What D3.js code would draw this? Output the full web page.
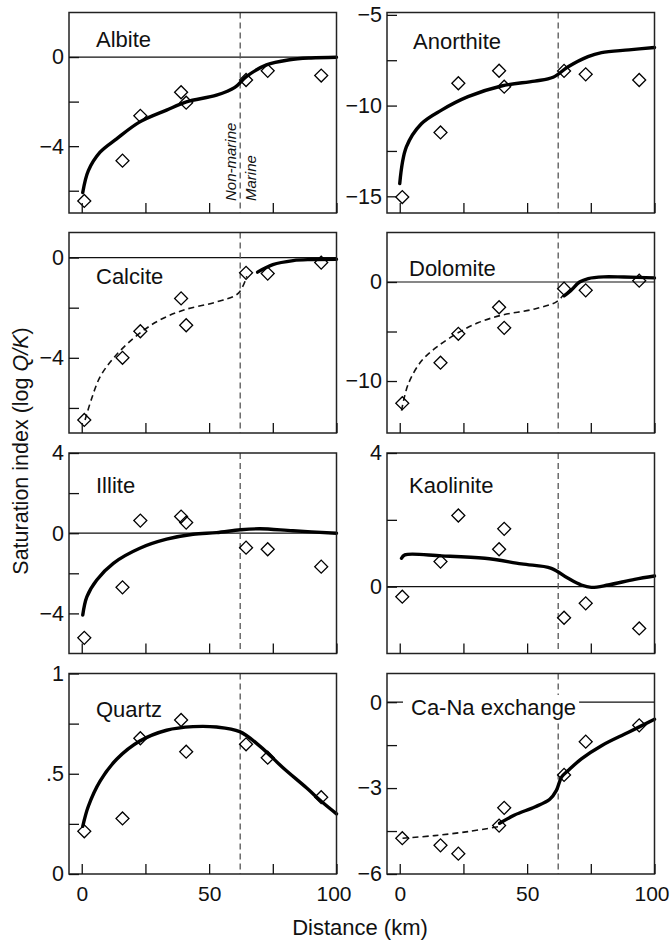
<!DOCTYPE html>
<html>
<head>
<meta charset="utf-8">
<script src="https://cdn.jsdelivr.net/npm/d3@7"></script>
<style>
    body { margin: 0; background: #fff; }
    svg { font-family: "Liberation Sans", Arial, Helvetica, sans-serif; }
    .tick text { font-size: 21.5px; fill: #111; }
</style>
</head>
<body>
<svg id="chart" width="671" height="943"></svg>
<script>
// sample sites along the flow path (km)
const sampleKm = [1, 16, 23, 39, 41, 64.5, 73, 94];
const boundaryKm = 62.2;
const xTicks = [0, 25, 50, 75, 100];
const xLabels = [0, 50, 100];

// observed saturation indices (diamonds)
const albiteObs    = [-6.46, -4.65, -2.64, -1.58, -2.05, -1.03, -0.62, -0.83];
const anorthiteObs = [-15.04, -11.48, -8.77, -8.08, -8.96, -8.09, -8.28, -8.59];
const calciteObs   = [-6.48, -4.0, -2.94, -1.63, -2.70, -0.61, -0.64, -0.2];
const dolomiteObs  = [-12.24, -8.15, -5.23, -2.55, -4.63, -0.67, -0.84, 0.13];
const illiteObs    = [-5.22, -2.7, 0.63, 0.83, 0.53, -0.72, -0.8, -1.67];
const kaoliniteObs = [-0.3, 0.75, 2.13, 1.12, 1.73, -0.93, -0.5, -1.25];
const quartzObs    = [0.213, 0.277, 0.677, 0.768, 0.61, 0.647, 0.58, 0.383];
const caNaObs      = [-4.75, -5.0, -5.29, -4.31, -3.69, -2.54, -1.38, -0.81];

// model curves [km, log Q/K]
const albiteModel = [[0.4,-6.08],[2.6,-5.1],[7.2,-4.27],[13.7,-3.67],[22.8,-2.91],[33.3,-2.38],[41.1,-2.01],
    [52.9,-1.71],[60.1,-1.36],[64.6,-0.88],[72.5,-0.35],[81.6,-0.12],[90,-0.04],[100,-0.01]];
const anorthiteModel = [[0,-14.3],[2.6,-12.28],[8.5,-11.0],[16.4,-10.25],[26.8,-9.51],[39.9,-8.92],[53,-8.65],
    [60.2,-8.44],[66.1,-7.86],[73.9,-7.3],[79.2,-7.08],[90,-6.93],[100,-6.8]];
const calciteDashed = [[1.3,-6.48],[3.9,-5.62],[7.2,-4.76],[12.4,-4.02],[20.2,-3.23],[29.4,-2.56],[39.8,-2.1],
    [52.9,-1.77],[61.4,-1.43],[64.8,-0.75]];
const calciteModel = [[69,-0.58],[75,-0.28],[83,-0.12],[90,-0.08],[100,-0.07]];
const dolomiteDashed = [[0.7,-13.0],[3.3,-10.33],[8.5,-7.99],[15,-6.48],[22.9,-5.13],[30.7,-4.12],[39.9,-3.36],
    [53,-2.72],[61.5,-2.01],[64.1,-1.35]];
const dolomiteModel = [[64.5,-1.4],[67,-0.9],[70.6,0],[74,0.35],[80,0.52],[88,0.5],[100,0.42]];
const illiteModel = [[0.4,-4.08],[2,-3.17],[5.9,-2.33],[12.4,-1.5],[22.8,-0.75],[33.3,-0.3],[43.7,-0.05],
    [52.9,0.03],[62.3,0.17],[69.9,0.22],[82.9,0.12],[100,0]];
const kaoliniteModel = [[0.7,0.85],[2,0.95],[16.4,0.92],[33.4,0.85],[47.8,0.68],[59.5,0.55],[66.1,0.25],
    [71.3,0.05],[75.2,-0.02],[81.8,0.05],[92.2,0.22],[100,0.32]];
const quartzModel = [[0.4,0.238],[2.6,0.338],[7.2,0.463],[13.7,0.572],[22.8,0.663],[33.3,0.717],[43.7,0.735],
    [52.9,0.733],[62,0.71],[69.9,0.638],[79,0.53],[88.2,0.43],[94.7,0.355],[100,0.3]];
const caNaDashed = [[1.1,-4.75],[13.7,-4.66],[26.8,-4.52],[39.2,-4.34]];
const caNaModel = [[39.2,-4.23],[45.1,-3.94],[53,-3.66],[58.9,-3.39],[61.5,-3.08],[63.5,-2.62],[66.1,-2.39],
    [71.3,-1.98],[79.2,-1.52],[89.6,-1.06],[100,-0.6]];

// y axis ticks and which of them get a label
const albiteTicks = [0, -2, -4, -6],            albiteLabels = [0, -4];
const anorthiteTicks = [-5, -7.5, -10, -12.5, -15], anorthiteLabels = [-5, -10, -15];
const calciteTicks = [0, -2, -4, -6],           calciteLabels = [0, -4];
const dolomiteTicks = [0, -5, -10],             dolomiteLabels = [0, -10];
const illiteTicks = [4, 2, 0, -2, -4],          illiteLabels = [4, 0, -4];
const kaoliniteTicks = [4, 2, 0],               kaoliniteLabels = [4, 0];
const quartzTicks = [0, 0.25, 0.5, 0.75, 1],    quartzLabels = [0, 0.5, 1];
const caNaTicks = [0, -1.5, -3, -4.5, -6],      caNaLabels = [0, -3, -6];

const colLeft = [69, 387];
const rowTop = [12.5, 232.5, 453, 673.5];

class MineralPanel {

    constructor(_config, _data) {
        this.config = {
            parentElement: _config.parentElement,
            left: _config.left,
            top: _config.top,
            width: 267.5,
            height: 200.5,
            title: _config.title,
            titlePos: _config.titlePos,
            titleBg: _config.titleBg || false,
            yDomain: _config.yDomain,
            yTicks: _config.yTicks,
            yLabels: _config.yLabels,
            zeroLine: _config.zeroLine !== false,
            showX: _config.showX || false,
            zoneLabels: _config.zoneLabels || false
        }
        this.data = _data;
        this.initVis();
    }

    initVis() {
        let vis = this;

        vis.xScale = d3.scaleLinear()
            .domain([-5, 100])
            .range([0, vis.config.width]);

        vis.yScale = d3.scaleLinear()
            .domain(vis.config.yDomain)
            .range([vis.config.height, 0]);

        vis.g = d3.select(vis.config.parentElement).append('g')
            .attr('transform', `translate(${vis.config.left},${vis.config.top})`);

        vis.line = d3.line()
            .x(d => vis.xScale(d[0]))
            .y(d => vis.yScale(d[1]))
            .curve(d3.curveCatmullRom.alpha(0.5));

        vis.renderVis();
    }

    renderVis() {
        let vis = this;
        const fmt = d => (Math.abs(d) > 0 && Math.abs(d) < 1 ? String(d).replace('0.', '.') : String(d)).replace('-', '\u2212');

        if (vis.config.zeroLine) {
            vis.g.append('line')
                .attr('x1', 0).attr('x2', vis.config.width)
                .attr('y1', vis.yScale(0)).attr('y2', vis.yScale(0))
                .attr('stroke', '#111').attr('stroke-width', 1.2);
        }

        // non-marine / marine boundary
        vis.g.append('line')
            .attr('x1', vis.xScale(boundaryKm)).attr('x2', vis.xScale(boundaryKm))
            .attr('y1', 0).attr('y2', vis.config.height)
            .attr('stroke', '#555').attr('stroke-width', 1.3)
            .attr('stroke-dasharray', '6,4');

        (vis.data.dashed || []).forEach(seg => {
            vis.g.append('path')
                .datum(seg)
                .attr('d', vis.line)
                .attr('fill', 'none').attr('stroke', '#111')
                .attr('stroke-width', 1.6).attr('stroke-dasharray', '6,4');
        });

        (vis.data.solid || []).forEach(seg => {
            vis.g.append('path')
                .datum(seg)
                .attr('d', vis.line)
                .attr('fill', 'none').attr('stroke', '#000')
                .attr('stroke-width', 3.4).attr('stroke-linecap', 'round');
        });

        vis.g.selectAll('.obs')
            .data(vis.data.obs.map((v, i) => [sampleKm[i], v]))
            .join('path')
            .attr('class', 'obs')
            .attr('d', d3.symbol().type(d3.symbolSquare).size(84))
            .attr('transform', d => `translate(${vis.xScale(d[0])},${vis.yScale(d[1])}) rotate(45)`)
            .attr('fill', 'none').attr('stroke', '#000').attr('stroke-width', 1.3);

        vis.g.append('rect')
            .attr('width', vis.config.width).attr('height', vis.config.height)
            .attr('fill', 'none').attr('stroke', '#222').attr('stroke-width', 1.5);

        // axes with inward ticks
        const yAxis = d3.axisLeft(vis.yScale)
            .tickValues(vis.config.yTicks)
            .tickSize(-10).tickPadding(5)
            .tickFormat(d => vis.config.yLabels.includes(d) ? fmt(d) : '');
        const yAxisG = vis.g.append('g').call(yAxis);
        yAxisG.select('.domain').remove();

        const xAxis = d3.axisBottom(vis.xScale)
            .tickValues(xTicks)
            .tickSize(-10).tickPadding(12)
            .tickFormat(d => vis.config.showX && xLabels.includes(d) ? d : '');
        const xAxisG = vis.g.append('g')
            .attr('transform', `translate(0,${vis.config.height})`)
            .call(xAxis);
        xAxisG.select('.domain').remove();
        xAxisG.selectAll('.tick text')
            .style('font-size', '21px')
            .attr('dx', d => d === 100 ? -3 : 0);
        vis.g.selectAll('.tick line').attr('stroke', '#111').attr('stroke-width', 1.3);

        const title = vis.g.append('text')
            .attr('x', vis.config.titlePos[0]).attr('y', vis.config.titlePos[1])
            .attr('font-size', 22).attr('fill', '#111')
            .text(vis.config.title);

        if (vis.config.titleBg) {
            // white box so the zero line stops around the label
            const bb = title.node().getBBox();
            vis.g.insert('rect', () => title.node())
                .attr('x', bb.x - 8).attr('y', bb.y)
                .attr('width', bb.width + 11).attr('height', bb.height)
                .attr('fill', '#fff');
        }

        if (vis.config.zoneLabels) {
            const bx = vis.xScale(boundaryKm);
            [['Non-marine', bx - 4], ['Marine', bx + 16]].forEach(([t, x]) => {
                vis.g.append('text')
                    .attr('transform', `translate(${x},${vis.config.height - 12}) rotate(-90)`)
                    .attr('font-size', 15).attr('font-style', 'italic').attr('fill', '#111')
                    .text(t);
            });
        }
    }
}

const svg = d3.select('#chart');

new MineralPanel({parentElement: '#chart', left: colLeft[0], top: rowTop[0], title: 'Albite', titlePos: [27, 34],
    yDomain: [-7, 2], yTicks: albiteTicks, yLabels: albiteLabels, zoneLabels: true},
    {obs: albiteObs, solid: [albiteModel]});
new MineralPanel({parentElement: '#chart', left: colLeft[1], top: rowTop[0], title: 'Anorthite', titlePos: [26, 36],
    yDomain: [-15.92, -4.87], yTicks: anorthiteTicks, yLabels: anorthiteLabels, zeroLine: false},
    {obs: anorthiteObs, solid: [anorthiteModel]});
new MineralPanel({parentElement: '#chart', left: colLeft[0], top: rowTop[1], title: 'Calcite', titlePos: [27, 51],
    yDomain: [-7, 1], yTicks: calciteTicks, yLabels: calciteLabels},
    {obs: calciteObs, solid: [calciteModel], dashed: [calciteDashed]});
new MineralPanel({parentElement: '#chart', left: colLeft[1], top: rowTop[1], title: 'Dolomite', titlePos: [22, 43],
    yDomain: [-15.25, 5], yTicks: dolomiteTicks, yLabels: dolomiteLabels},
    {obs: dolomiteObs, solid: [dolomiteModel], dashed: [dolomiteDashed]});
new MineralPanel({parentElement: '#chart', left: colLeft[0], top: rowTop[2], title: 'Illite', titlePos: [27, 40],
    yDomain: [-6, 4], yTicks: illiteTicks, yLabels: illiteLabels},
    {obs: illiteObs, solid: [illiteModel]});
new MineralPanel({parentElement: '#chart', left: colLeft[1], top: rowTop[2], title: 'Kaolinite', titlePos: [22, 40],
    yDomain: [-2, 4], yTicks: kaoliniteTicks, yLabels: kaoliniteLabels},
    {obs: kaoliniteObs, solid: [kaoliniteModel]});
new MineralPanel({parentElement: '#chart', left: colLeft[0], top: rowTop[3], title: 'Quartz', titlePos: [27, 43],
    yDomain: [0, 1], yTicks: quartzTicks, yLabels: quartzLabels, zeroLine: false, showX: true},
    {obs: quartzObs, solid: [quartzModel]});
new MineralPanel({parentElement: '#chart', left: colLeft[1], top: rowTop[3], title: 'Ca-Na exchange', titlePos: [24, 41.5],
    yDomain: [-6, 1], yTicks: caNaTicks, yLabels: caNaLabels, titleBg: true, showX: true},
    {obs: caNaObs, solid: [caNaModel], dashed: [caNaDashed]});

// shared axis titles
svg.append('text')
    .attr('transform', 'translate(28,451) rotate(-90)')
    .attr('text-anchor', 'middle')
    .attr('font-size', 21.5).attr('fill', '#111')
    .call(t => {
        t.append('tspan').text('Saturation index (log ');
        t.append('tspan').attr('font-style', 'italic').text('Q/K');
        t.append('tspan').text(')');
    });

svg.append('text')
    .attr('x', 360).attr('y', 935)
    .attr('text-anchor', 'middle')
    .attr('font-size', 22).attr('fill', '#111')
    .text('Distance (km)');
</script>
</body>
</html>
